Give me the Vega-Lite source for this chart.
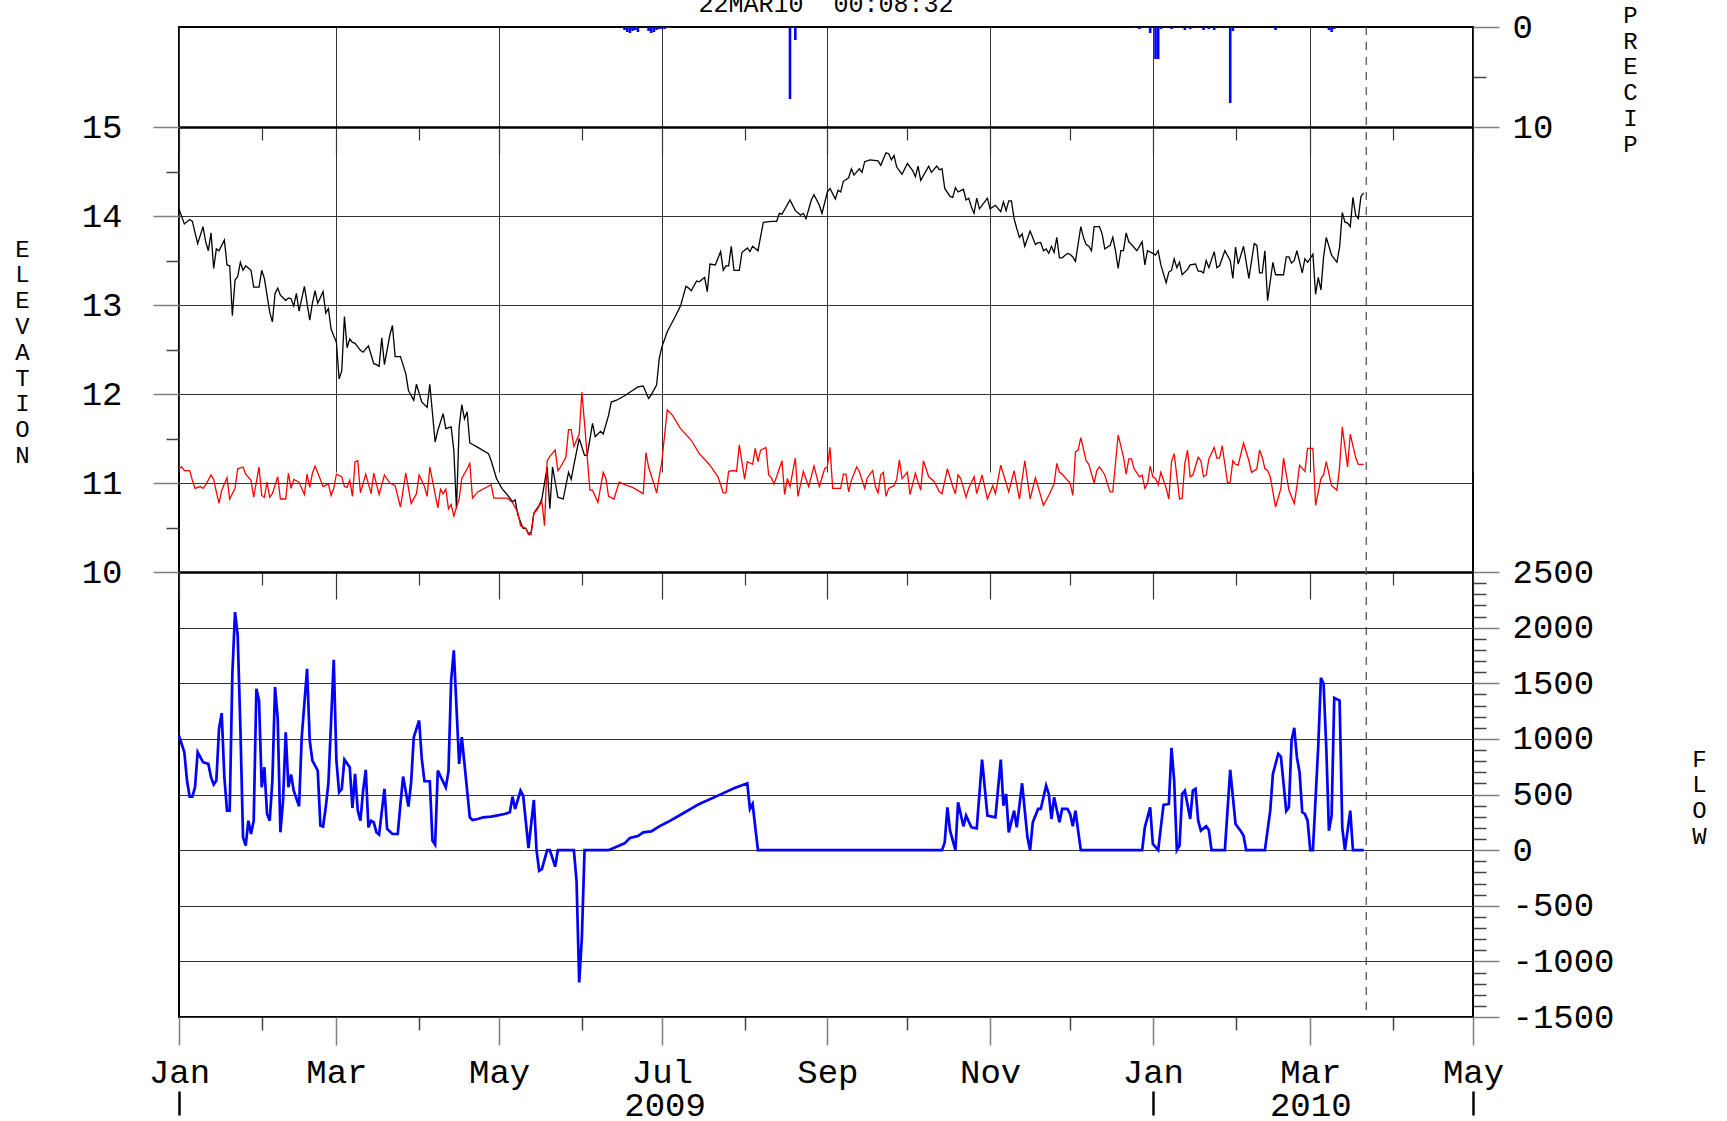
{
  "$schema": "https://vega.github.io/schema/vega-lite/v6.json",
  "width": 1294,
  "height": 990,
  "autosize": {"type": "none"},
  "padding": {"left": 179, "top": 27, "right": 254, "bottom": 104},
  "background": "white",
  "title": {"text": "22MAR10 \u00a000:08:32", "frame": "group", "anchor": "middle", "font": "Liberation Mono", "fontSize": 25, "fontWeight": "normal", "color": "black", "offset": -34, "baseline": "alphabetic"},
  "config": {
    "view": {"stroke": "black", "strokeWidth": 2},
    "axis": {"labelFont": "Liberation Mono", "labelFontSize": 34, "labelColor": "black", "titleFont": "Liberation Mono", "titleFontSize": 24, "titleFontWeight": "normal", "titleColor": "black", "labelOverlap": false, "labelFlush": false}
  },
  "datasets": {
    "elev": [
      {"t":"2009-01-01","s":"pool","v":14.08},{"t":"2009-01-03","s":"pool","v":13.91},{"t":"2009-01-05","s":"pool","v":13.96},{"t":"2009-01-06","s":"pool","v":13.94},{"t":"2009-01-08","s":"pool","v":13.69},{"t":"2009-01-10","s":"pool","v":13.88},{"t":"2009-01-11","s":"pool","v":13.71},{"t":"2009-01-12","s":"pool","v":13.61},{"t":"2009-01-13","s":"pool","v":13.81},{"t":"2009-01-14","s":"pool","v":13.41},{"t":"2009-01-15","s":"pool","v":13.63},{"t":"2009-01-16","s":"pool","v":13.61},{"t":"2009-01-18","s":"pool","v":13.73},{"t":"2009-01-19","s":"pool","v":13.45},{"t":"2009-01-20","s":"pool","v":13.44},{"t":"2009-01-21","s":"pool","v":12.88},{"t":"2009-01-22","s":"pool","v":13.28},{"t":"2009-01-23","s":"pool","v":13.32},{"t":"2009-01-24","s":"pool","v":13.48},{"t":"2009-01-25","s":"pool","v":13.39},{"t":"2009-01-26","s":"pool","v":13.44},{"t":"2009-01-28","s":"pool","v":13.39},{"t":"2009-01-29","s":"pool","v":13.2},{"t":"2009-01-31","s":"pool","v":13.2},
      {"t":"2009-02-01","s":"pool","v":13.39},{"t":"2009-02-02","s":"pool","v":13.3},{"t":"2009-02-04","s":"pool","v":12.92},{"t":"2009-02-05","s":"pool","v":12.81},{"t":"2009-02-06","s":"pool","v":13.13},{"t":"2009-02-07","s":"pool","v":13.19},{"t":"2009-02-08","s":"pool","v":13.11},{"t":"2009-02-10","s":"pool","v":13.05},{"t":"2009-02-11","s":"pool","v":13.08},{"t":"2009-02-12","s":"pool","v":13.07},{"t":"2009-02-13","s":"pool","v":12.99},{"t":"2009-02-14","s":"pool","v":13.13},{"t":"2009-02-15","s":"pool","v":12.93},{"t":"2009-02-17","s":"pool","v":13.21},{"t":"2009-02-19","s":"pool","v":12.83},{"t":"2009-02-20","s":"pool","v":13.02},{"t":"2009-02-21","s":"pool","v":13.16},{"t":"2009-02-22","s":"pool","v":13.02},{"t":"2009-02-24","s":"pool","v":13.15},{"t":"2009-02-25","s":"pool","v":12.91},{"t":"2009-02-26","s":"pool","v":12.96},{"t":"2009-02-27","s":"pool","v":12.73},
      {"t":"2009-03-01","s":"pool","v":12.58},{"t":"2009-03-02","s":"pool","v":12.17},{"t":"2009-03-03","s":"pool","v":12.26},{"t":"2009-03-04","s":"pool","v":12.87},{"t":"2009-03-05","s":"pool","v":12.52},{"t":"2009-03-06","s":"pool","v":12.62},{"t":"2009-03-07","s":"pool","v":12.58},{"t":"2009-03-08","s":"pool","v":12.57},{"t":"2009-03-10","s":"pool","v":12.49},{"t":"2009-03-11","s":"pool","v":12.47},{"t":"2009-03-13","s":"pool","v":12.54},{"t":"2009-03-15","s":"pool","v":12.34},{"t":"2009-03-16","s":"pool","v":12.33},{"t":"2009-03-17","s":"pool","v":12.31},{"t":"2009-03-18","s":"pool","v":12.63},{"t":"2009-03-19","s":"pool","v":12.33},{"t":"2009-03-21","s":"pool","v":12.66},{"t":"2009-03-22","s":"pool","v":12.77},{"t":"2009-03-23","s":"pool","v":12.42},{"t":"2009-03-25","s":"pool","v":12.42},{"t":"2009-03-27","s":"pool","v":12.23},{"t":"2009-03-28","s":"pool","v":12.04},{"t":"2009-03-30","s":"pool","v":11.93},{"t":"2009-03-31","s":"pool","v":12.11},
      {"t":"2009-04-02","s":"pool","v":11.91},{"t":"2009-04-04","s":"pool","v":11.85},{"t":"2009-04-05","s":"pool","v":12.11},{"t":"2009-04-07","s":"pool","v":11.46},{"t":"2009-04-08","s":"pool","v":11.59},{"t":"2009-04-10","s":"pool","v":11.78},{"t":"2009-04-11","s":"pool","v":11.61},{"t":"2009-04-13","s":"pool","v":11.63},{"t":"2009-04-14","s":"pool","v":11.37},{"t":"2009-04-15","s":"pool","v":10.71},{"t":"2009-04-16","s":"pool","v":11.63},{"t":"2009-04-17","s":"pool","v":11.88},{"t":"2009-04-18","s":"pool","v":11.72},{"t":"2009-04-19","s":"pool","v":11.8},{"t":"2009-04-20","s":"pool","v":11.45},{"t":"2009-04-23","s":"pool","v":11.4},{"t":"2009-04-27","s":"pool","v":11.33},{"t":"2009-04-28","s":"pool","v":11.25},{"t":"2009-04-30","s":"pool","v":11.05},
      {"t":"2009-05-02","s":"pool","v":10.94},{"t":"2009-05-04","s":"pool","v":10.87},{"t":"2009-05-06","s":"pool","v":10.79},{"t":"2009-05-07","s":"pool","v":10.81},{"t":"2009-05-08","s":"pool","v":10.64},{"t":"2009-05-10","s":"pool","v":10.49},{"t":"2009-05-11","s":"pool","v":10.49},{"t":"2009-05-12","s":"pool","v":10.43},{"t":"2009-05-13","s":"pool","v":10.45},{"t":"2009-05-14","s":"pool","v":10.66},{"t":"2009-05-16","s":"pool","v":10.75},{"t":"2009-05-17","s":"pool","v":10.82},{"t":"2009-05-19","s":"pool","v":11.18},{"t":"2009-05-20","s":"pool","v":10.71},{"t":"2009-05-21","s":"pool","v":11.18},{"t":"2009-05-23","s":"pool","v":10.84},{"t":"2009-05-25","s":"pool","v":10.82},{"t":"2009-05-27","s":"pool","v":11.12},{"t":"2009-05-28","s":"pool","v":11.04},{"t":"2009-05-29","s":"pool","v":11.2},{"t":"2009-05-31","s":"pool","v":11.5},
      {"t":"2009-06-02","s":"pool","v":11.31},{"t":"2009-06-03","s":"pool","v":11.31},{"t":"2009-06-05","s":"pool","v":11.67},{"t":"2009-06-06","s":"pool","v":11.52},{"t":"2009-06-08","s":"pool","v":11.58},{"t":"2009-06-09","s":"pool","v":11.55},{"t":"2009-06-11","s":"pool","v":11.76},{"t":"2009-06-12","s":"pool","v":11.91},{"t":"2009-06-14","s":"pool","v":11.93},{"t":"2009-06-17","s":"pool","v":11.98},{"t":"2009-06-19","s":"pool","v":12.02},{"t":"2009-06-22","s":"pool","v":12.08},{"t":"2009-06-24","s":"pool","v":12.09},{"t":"2009-06-26","s":"pool","v":11.95},{"t":"2009-06-27","s":"pool","v":11.99},{"t":"2009-06-29","s":"pool","v":12.1},{"t":"2009-06-30","s":"pool","v":12.4},
      {"t":"2009-07-01","s":"pool","v":12.53},{"t":"2009-07-03","s":"pool","v":12.7},{"t":"2009-07-06","s":"pool","v":12.87},{"t":"2009-07-08","s":"pool","v":12.99},{"t":"2009-07-10","s":"pool","v":13.21},{"t":"2009-07-11","s":"pool","v":13.19},{"t":"2009-07-12","s":"pool","v":13.16},{"t":"2009-07-14","s":"pool","v":13.27},{"t":"2009-07-15","s":"pool","v":13.26},{"t":"2009-07-17","s":"pool","v":13.31},{"t":"2009-07-18","s":"pool","v":13.15},{"t":"2009-07-19","s":"pool","v":13.46},{"t":"2009-07-21","s":"pool","v":13.45},{"t":"2009-07-23","s":"pool","v":13.6},{"t":"2009-07-24","s":"pool","v":13.39},{"t":"2009-07-25","s":"pool","v":13.44},{"t":"2009-07-26","s":"pool","v":13.44},{"t":"2009-07-27","s":"pool","v":13.66},{"t":"2009-07-28","s":"pool","v":13.39},{"t":"2009-07-30","s":"pool","v":13.39},{"t":"2009-07-31","s":"pool","v":13.59},
      {"t":"2009-08-02","s":"pool","v":13.64},{"t":"2009-08-03","s":"pool","v":13.6},{"t":"2009-08-04","s":"pool","v":13.66},{"t":"2009-08-06","s":"pool","v":13.61},{"t":"2009-08-08","s":"pool","v":13.93},{"t":"2009-08-11","s":"pool","v":13.94},{"t":"2009-08-13","s":"pool","v":13.94},{"t":"2009-08-14","s":"pool","v":14.03},{"t":"2009-08-15","s":"pool","v":14.02},{"t":"2009-08-18","s":"pool","v":14.18},{"t":"2009-08-20","s":"pool","v":14.06},{"t":"2009-08-22","s":"pool","v":14.01},{"t":"2009-08-23","s":"pool","v":14.03},{"t":"2009-08-24","s":"pool","v":13.97},{"t":"2009-08-26","s":"pool","v":14.18},{"t":"2009-08-27","s":"pool","v":14.24},{"t":"2009-08-29","s":"pool","v":14.12},{"t":"2009-08-30","s":"pool","v":14.03},
      {"t":"2009-09-01","s":"pool","v":14.27},{"t":"2009-09-02","s":"pool","v":14.31},{"t":"2009-09-04","s":"pool","v":14.19},{"t":"2009-09-05","s":"pool","v":14.29},{"t":"2009-09-06","s":"pool","v":14.27},{"t":"2009-09-07","s":"pool","v":14.39},{"t":"2009-09-09","s":"pool","v":14.43},{"t":"2009-09-10","s":"pool","v":14.53},{"t":"2009-09-11","s":"pool","v":14.46},{"t":"2009-09-13","s":"pool","v":14.53},{"t":"2009-09-14","s":"pool","v":14.49},{"t":"2009-09-15","s":"pool","v":14.61},{"t":"2009-09-17","s":"pool","v":14.63},{"t":"2009-09-20","s":"pool","v":14.62},{"t":"2009-09-21","s":"pool","v":14.57},{"t":"2009-09-23","s":"pool","v":14.71},{"t":"2009-09-24","s":"pool","v":14.7},{"t":"2009-09-25","s":"pool","v":14.63},{"t":"2009-09-26","s":"pool","v":14.68},{"t":"2009-09-27","s":"pool","v":14.55},{"t":"2009-09-29","s":"pool","v":14.47},
      {"t":"2009-10-01","s":"pool","v":14.59},{"t":"2009-10-03","s":"pool","v":14.51},{"t":"2009-10-04","s":"pool","v":14.44},{"t":"2009-10-05","s":"pool","v":14.56},{"t":"2009-10-06","s":"pool","v":14.4},{"t":"2009-10-09","s":"pool","v":14.56},{"t":"2009-10-10","s":"pool","v":14.49},{"t":"2009-10-12","s":"pool","v":14.56},{"t":"2009-10-13","s":"pool","v":14.52},{"t":"2009-10-14","s":"pool","v":14.53},{"t":"2009-10-15","s":"pool","v":14.31},{"t":"2009-10-17","s":"pool","v":14.22},{"t":"2009-10-18","s":"pool","v":14.21},{"t":"2009-10-19","s":"pool","v":14.32},{"t":"2009-10-20","s":"pool","v":14.27},{"t":"2009-10-22","s":"pool","v":14.3},{"t":"2009-10-23","s":"pool","v":14.18},{"t":"2009-10-24","s":"pool","v":14.2},{"t":"2009-10-25","s":"pool","v":14.1},{"t":"2009-10-26","s":"pool","v":14.03},{"t":"2009-10-27","s":"pool","v":14.2},{"t":"2009-10-28","s":"pool","v":14.08},{"t":"2009-10-31","s":"pool","v":14.2},
      {"t":"2009-11-01","s":"pool","v":14.08},{"t":"2009-11-03","s":"pool","v":14.12},{"t":"2009-11-05","s":"pool","v":14.05},{"t":"2009-11-06","s":"pool","v":14.16},{"t":"2009-11-07","s":"pool","v":14.06},{"t":"2009-11-08","s":"pool","v":14.17},{"t":"2009-11-09","s":"pool","v":14.17},{"t":"2009-11-10","s":"pool","v":13.97},{"t":"2009-11-11","s":"pool","v":13.86},{"t":"2009-11-12","s":"pool","v":13.76},{"t":"2009-11-13","s":"pool","v":13.8},{"t":"2009-11-14","s":"pool","v":13.66},{"t":"2009-11-16","s":"pool","v":13.83},{"t":"2009-11-18","s":"pool","v":13.68},{"t":"2009-11-19","s":"pool","v":13.7},{"t":"2009-11-20","s":"pool","v":13.7},{"t":"2009-11-21","s":"pool","v":13.61},{"t":"2009-11-22","s":"pool","v":13.63},{"t":"2009-11-23","s":"pool","v":13.58},{"t":"2009-11-24","s":"pool","v":13.66},{"t":"2009-11-25","s":"pool","v":13.59},{"t":"2009-11-26","s":"pool","v":13.76},{"t":"2009-11-27","s":"pool","v":13.53},{"t":"2009-11-28","s":"pool","v":13.53},{"t":"2009-11-30","s":"pool","v":13.58},
      {"t":"2009-12-01","s":"pool","v":13.57},{"t":"2009-12-02","s":"pool","v":13.54},{"t":"2009-12-03","s":"pool","v":13.49},{"t":"2009-12-05","s":"pool","v":13.88},{"t":"2009-12-06","s":"pool","v":13.76},{"t":"2009-12-07","s":"pool","v":13.68},{"t":"2009-12-08","s":"pool","v":13.66},{"t":"2009-12-09","s":"pool","v":13.61},{"t":"2009-12-10","s":"pool","v":13.88},{"t":"2009-12-12","s":"pool","v":13.88},{"t":"2009-12-13","s":"pool","v":13.8},{"t":"2009-12-14","s":"pool","v":13.63},{"t":"2009-12-16","s":"pool","v":13.67},{"t":"2009-12-17","s":"pool","v":13.76},{"t":"2009-12-18","s":"pool","v":13.61},{"t":"2009-12-19","s":"pool","v":13.41},{"t":"2009-12-20","s":"pool","v":13.61},{"t":"2009-12-21","s":"pool","v":13.61},{"t":"2009-12-22","s":"pool","v":13.81},{"t":"2009-12-23","s":"pool","v":13.71},{"t":"2009-12-24","s":"pool","v":13.68},{"t":"2009-12-26","s":"pool","v":13.61},{"t":"2009-12-28","s":"pool","v":13.71},{"t":"2009-12-29","s":"pool","v":13.45},{"t":"2009-12-30","s":"pool","v":13.61},
      {"t":"2010-01-01","s":"pool","v":13.58},{"t":"2010-01-02","s":"pool","v":13.56},{"t":"2010-01-03","s":"pool","v":13.61},{"t":"2010-01-04","s":"pool","v":13.45},{"t":"2010-01-06","s":"pool","v":13.25},{"t":"2010-01-07","s":"pool","v":13.37},{"t":"2010-01-08","s":"pool","v":13.39},{"t":"2010-01-09","s":"pool","v":13.52},{"t":"2010-01-10","s":"pool","v":13.42},{"t":"2010-01-11","s":"pool","v":13.48},{"t":"2010-01-12","s":"pool","v":13.34},{"t":"2010-01-14","s":"pool","v":13.4},{"t":"2010-01-15","s":"pool","v":13.45},{"t":"2010-01-17","s":"pool","v":13.46},{"t":"2010-01-18","s":"pool","v":13.38},{"t":"2010-01-19","s":"pool","v":13.38},{"t":"2010-01-20","s":"pool","v":13.36},{"t":"2010-01-21","s":"pool","v":13.5},{"t":"2010-01-22","s":"pool","v":13.42},{"t":"2010-01-24","s":"pool","v":13.6},{"t":"2010-01-25","s":"pool","v":13.42},{"t":"2010-01-26","s":"pool","v":13.44},{"t":"2010-01-28","s":"pool","v":13.61},{"t":"2010-01-30","s":"pool","v":13.5},{"t":"2010-01-31","s":"pool","v":13.3},
      {"t":"2010-02-01","s":"pool","v":13.65},{"t":"2010-02-02","s":"pool","v":13.46},{"t":"2010-02-04","s":"pool","v":13.66},{"t":"2010-02-06","s":"pool","v":13.3},{"t":"2010-02-08","s":"pool","v":13.69},{"t":"2010-02-09","s":"pool","v":13.67},{"t":"2010-02-10","s":"pool","v":13.36},{"t":"2010-02-11","s":"pool","v":13.36},{"t":"2010-02-12","s":"pool","v":13.61},{"t":"2010-02-13","s":"pool","v":13.05},{"t":"2010-02-15","s":"pool","v":13.48},{"t":"2010-02-16","s":"pool","v":13.34},{"t":"2010-02-19","s":"pool","v":13.34},{"t":"2010-02-20","s":"pool","v":13.54},{"t":"2010-02-21","s":"pool","v":13.54},{"t":"2010-02-22","s":"pool","v":13.47},{"t":"2010-02-23","s":"pool","v":13.5},{"t":"2010-02-24","s":"pool","v":13.61},{"t":"2010-02-26","s":"pool","v":13.36},{"t":"2010-02-27","s":"pool","v":13.52},{"t":"2010-02-28","s":"pool","v":13.48},
      {"t":"2010-03-02","s":"pool","v":13.57},{"t":"2010-03-03","s":"pool","v":13.12},{"t":"2010-03-04","s":"pool","v":13.31},{"t":"2010-03-05","s":"pool","v":13.17},{"t":"2010-03-06","s":"pool","v":13.54},{"t":"2010-03-07","s":"pool","v":13.76},{"t":"2010-03-09","s":"pool","v":13.56},{"t":"2010-03-11","s":"pool","v":13.48},{"t":"2010-03-12","s":"pool","v":13.65},{"t":"2010-03-13","s":"pool","v":14.04},{"t":"2010-03-14","s":"pool","v":13.93},{"t":"2010-03-15","s":"pool","v":13.92},{"t":"2010-03-16","s":"pool","v":13.88},{"t":"2010-03-17","s":"pool","v":14.21},{"t":"2010-03-18","s":"pool","v":14.01},{"t":"2010-03-19","s":"pool","v":13.97},{"t":"2010-03-20","s":"pool","v":14.22},{"t":"2010-03-21","s":"pool","v":14.26},
      {"t":"2009-01-01","s":"tail","v":11.16},{"t":"2009-01-02","s":"tail","v":11.18},{"t":"2009-01-03","s":"tail","v":11.14},{"t":"2009-01-05","s":"tail","v":11.14},{"t":"2009-01-06","s":"tail","v":11.03},{"t":"2009-01-07","s":"tail","v":10.94},{"t":"2009-01-09","s":"tail","v":10.96},{"t":"2009-01-10","s":"tail","v":10.94},{"t":"2009-01-11","s":"tail","v":10.98},{"t":"2009-01-13","s":"tail","v":11.09},{"t":"2009-01-14","s":"tail","v":11.04},{"t":"2009-01-15","s":"tail","v":10.9},{"t":"2009-01-16","s":"tail","v":10.77},{"t":"2009-01-17","s":"tail","v":10.92},{"t":"2009-01-19","s":"tail","v":11.06},{"t":"2009-01-20","s":"tail","v":10.82},{"t":"2009-01-22","s":"tail","v":10.94},{"t":"2009-01-23","s":"tail","v":11.16},{"t":"2009-01-25","s":"tail","v":11.18},{"t":"2009-01-26","s":"tail","v":11.1},{"t":"2009-01-28","s":"tail","v":11.03},{"t":"2009-01-29","s":"tail","v":10.84},{"t":"2009-01-31","s":"tail","v":11.18},
      {"t":"2009-02-01","s":"tail","v":10.86},{"t":"2009-02-02","s":"tail","v":10.84},{"t":"2009-02-03","s":"tail","v":11.01},{"t":"2009-02-04","s":"tail","v":10.84},{"t":"2009-02-05","s":"tail","v":10.88},{"t":"2009-02-07","s":"tail","v":11.07},{"t":"2009-02-08","s":"tail","v":10.82},{"t":"2009-02-10","s":"tail","v":10.82},{"t":"2009-02-11","s":"tail","v":11.11},{"t":"2009-02-12","s":"tail","v":10.94},{"t":"2009-02-13","s":"tail","v":11.04},{"t":"2009-02-15","s":"tail","v":11.01},{"t":"2009-02-17","s":"tail","v":10.87},{"t":"2009-02-18","s":"tail","v":11.1},{"t":"2009-02-19","s":"tail","v":10.95},{"t":"2009-02-20","s":"tail","v":11.11},{"t":"2009-02-21","s":"tail","v":11.19},{"t":"2009-02-23","s":"tail","v":11.04},{"t":"2009-02-24","s":"tail","v":10.96},{"t":"2009-02-26","s":"tail","v":10.99},{"t":"2009-02-27","s":"tail","v":10.86},{"t":"2009-02-28","s":"tail","v":10.94},
      {"t":"2009-03-01","s":"tail","v":11.1},{"t":"2009-03-03","s":"tail","v":11.07},{"t":"2009-03-04","s":"tail","v":10.96},{"t":"2009-03-05","s":"tail","v":10.95},{"t":"2009-03-06","s":"tail","v":11.03},{"t":"2009-03-07","s":"tail","v":10.85},{"t":"2009-03-08","s":"tail","v":11.24},{"t":"2009-03-09","s":"tail","v":11.25},{"t":"2009-03-10","s":"tail","v":10.89},{"t":"2009-03-12","s":"tail","v":11.1},{"t":"2009-03-14","s":"tail","v":10.88},{"t":"2009-03-15","s":"tail","v":11.11},{"t":"2009-03-17","s":"tail","v":10.87},{"t":"2009-03-19","s":"tail","v":11.09},{"t":"2009-03-21","s":"tail","v":11.0},{"t":"2009-03-23","s":"tail","v":10.97},{"t":"2009-03-25","s":"tail","v":10.73},{"t":"2009-03-27","s":"tail","v":11.11},{"t":"2009-03-29","s":"tail","v":10.77},{"t":"2009-03-31","s":"tail","v":10.88},
      {"t":"2009-04-01","s":"tail","v":11.09},{"t":"2009-04-03","s":"tail","v":10.96},{"t":"2009-04-04","s":"tail","v":10.85},{"t":"2009-04-05","s":"tail","v":11.18},{"t":"2009-04-08","s":"tail","v":10.72},{"t":"2009-04-09","s":"tail","v":10.93},{"t":"2009-04-10","s":"tail","v":10.88},{"t":"2009-04-11","s":"tail","v":10.93},{"t":"2009-04-12","s":"tail","v":10.71},{"t":"2009-04-13","s":"tail","v":10.76},{"t":"2009-04-14","s":"tail","v":10.63},{"t":"2009-04-16","s":"tail","v":10.82},{"t":"2009-04-17","s":"tail","v":11.05},{"t":"2009-04-19","s":"tail","v":11.16},{"t":"2009-04-20","s":"tail","v":11.22},{"t":"2009-04-21","s":"tail","v":10.83},{"t":"2009-04-23","s":"tail","v":10.9},{"t":"2009-04-28","s":"tail","v":10.98},{"t":"2009-04-29","s":"tail","v":10.83},
      {"t":"2009-05-04","s":"tail","v":10.83},{"t":"2009-05-06","s":"tail","v":10.78},{"t":"2009-05-08","s":"tail","v":10.67},{"t":"2009-05-09","s":"tail","v":10.52},{"t":"2009-05-11","s":"tail","v":10.49},{"t":"2009-05-12","s":"tail","v":10.42},{"t":"2009-05-13","s":"tail","v":10.42},{"t":"2009-05-14","s":"tail","v":10.66},{"t":"2009-05-15","s":"tail","v":10.69},{"t":"2009-05-17","s":"tail","v":10.79},{"t":"2009-05-18","s":"tail","v":10.52},{"t":"2009-05-19","s":"tail","v":11.25},{"t":"2009-05-20","s":"tail","v":11.3},{"t":"2009-05-22","s":"tail","v":11.37},{"t":"2009-05-23","s":"tail","v":11.14},{"t":"2009-05-24","s":"tail","v":11.18},{"t":"2009-05-26","s":"tail","v":11.29},{"t":"2009-05-27","s":"tail","v":11.6},{"t":"2009-05-28","s":"tail","v":11.6},{"t":"2009-05-29","s":"tail","v":11.41},{"t":"2009-05-31","s":"tail","v":11.55},
      {"t":"2009-06-01","s":"tail","v":12.02},{"t":"2009-06-02","s":"tail","v":11.67},{"t":"2009-06-04","s":"tail","v":10.92},{"t":"2009-06-05","s":"tail","v":10.92},{"t":"2009-06-07","s":"tail","v":10.78},{"t":"2009-06-09","s":"tail","v":11.12},{"t":"2009-06-10","s":"tail","v":11.05},{"t":"2009-06-11","s":"tail","v":10.85},{"t":"2009-06-13","s":"tail","v":10.82},{"t":"2009-06-15","s":"tail","v":11.01},{"t":"2009-06-18","s":"tail","v":10.97},{"t":"2009-06-20","s":"tail","v":10.95},{"t":"2009-06-24","s":"tail","v":10.88},{"t":"2009-06-25","s":"tail","v":11.34},{"t":"2009-06-26","s":"tail","v":11.18},{"t":"2009-06-28","s":"tail","v":10.99},{"t":"2009-06-29","s":"tail","v":10.89},
      {"t":"2009-07-01","s":"tail","v":11.25},{"t":"2009-07-03","s":"tail","v":11.82},{"t":"2009-07-05","s":"tail","v":11.76},{"t":"2009-07-08","s":"tail","v":11.61},{"t":"2009-07-12","s":"tail","v":11.48},{"t":"2009-07-15","s":"tail","v":11.33},{"t":"2009-07-19","s":"tail","v":11.2},{"t":"2009-07-22","s":"tail","v":11.07},{"t":"2009-07-24","s":"tail","v":10.89},{"t":"2009-07-25","s":"tail","v":10.89},{"t":"2009-07-26","s":"tail","v":11.13},{"t":"2009-07-28","s":"tail","v":11.14},{"t":"2009-07-29","s":"tail","v":11.13},{"t":"2009-07-30","s":"tail","v":11.43},
      {"t":"2009-08-01","s":"tail","v":11.04},{"t":"2009-08-02","s":"tail","v":11.24},{"t":"2009-08-04","s":"tail","v":11.21},{"t":"2009-08-05","s":"tail","v":11.39},{"t":"2009-08-06","s":"tail","v":11.24},{"t":"2009-08-07","s":"tail","v":11.37},{"t":"2009-08-09","s":"tail","v":11.4},{"t":"2009-08-10","s":"tail","v":11.09},{"t":"2009-08-11","s":"tail","v":11.06},{"t":"2009-08-12","s":"tail","v":10.99},{"t":"2009-08-13","s":"tail","v":11.07},{"t":"2009-08-15","s":"tail","v":11.25},{"t":"2009-08-16","s":"tail","v":10.87},{"t":"2009-08-17","s":"tail","v":11.05},{"t":"2009-08-18","s":"tail","v":10.96},{"t":"2009-08-20","s":"tail","v":11.28},{"t":"2009-08-21","s":"tail","v":10.85},{"t":"2009-08-23","s":"tail","v":11.13},{"t":"2009-08-25","s":"tail","v":10.96},{"t":"2009-08-27","s":"tail","v":11.19},{"t":"2009-08-29","s":"tail","v":10.96},{"t":"2009-08-31","s":"tail","v":11.16},
      {"t":"2009-09-01","s":"tail","v":11.18},{"t":"2009-09-02","s":"tail","v":11.4},{"t":"2009-09-03","s":"tail","v":10.94},{"t":"2009-09-06","s":"tail","v":10.94},{"t":"2009-09-07","s":"tail","v":11.1},{"t":"2009-09-08","s":"tail","v":11.1},{"t":"2009-09-09","s":"tail","v":10.9},{"t":"2009-09-10","s":"tail","v":11.03},{"t":"2009-09-12","s":"tail","v":11.18},{"t":"2009-09-13","s":"tail","v":11.13},{"t":"2009-09-15","s":"tail","v":10.94},{"t":"2009-09-16","s":"tail","v":11.06},{"t":"2009-09-18","s":"tail","v":11.14},{"t":"2009-09-19","s":"tail","v":10.96},{"t":"2009-09-20","s":"tail","v":10.89},{"t":"2009-09-21","s":"tail","v":11.09},{"t":"2009-09-22","s":"tail","v":11.12},{"t":"2009-09-23","s":"tail","v":10.85},{"t":"2009-09-24","s":"tail","v":10.94},{"t":"2009-09-26","s":"tail","v":10.97},{"t":"2009-09-27","s":"tail","v":11.04},{"t":"2009-09-28","s":"tail","v":11.26},{"t":"2009-09-29","s":"tail","v":11.05},
      {"t":"2009-10-01","s":"tail","v":11.12},{"t":"2009-10-02","s":"tail","v":10.87},{"t":"2009-10-04","s":"tail","v":11.11},{"t":"2009-10-05","s":"tail","v":11.01},{"t":"2009-10-06","s":"tail","v":10.92},{"t":"2009-10-07","s":"tail","v":11.25},{"t":"2009-10-09","s":"tail","v":11.07},{"t":"2009-10-11","s":"tail","v":11.02},{"t":"2009-10-13","s":"tail","v":10.9},{"t":"2009-10-14","s":"tail","v":10.88},{"t":"2009-10-16","s":"tail","v":11.16},{"t":"2009-10-18","s":"tail","v":10.96},{"t":"2009-10-19","s":"tail","v":10.88},{"t":"2009-10-20","s":"tail","v":11.09},{"t":"2009-10-21","s":"tail","v":11.05},{"t":"2009-10-23","s":"tail","v":10.84},{"t":"2009-10-24","s":"tail","v":10.94},{"t":"2009-10-26","s":"tail","v":11.07},{"t":"2009-10-27","s":"tail","v":10.88},{"t":"2009-10-29","s":"tail","v":11.09},{"t":"2009-10-31","s":"tail","v":10.82},
      {"t":"2009-11-02","s":"tail","v":10.97},{"t":"2009-11-03","s":"tail","v":10.88},{"t":"2009-11-05","s":"tail","v":11.2},{"t":"2009-11-07","s":"tail","v":11.0},{"t":"2009-11-08","s":"tail","v":10.9},{"t":"2009-11-10","s":"tail","v":11.14},{"t":"2009-11-12","s":"tail","v":10.82},{"t":"2009-11-14","s":"tail","v":11.25},{"t":"2009-11-16","s":"tail","v":10.82},{"t":"2009-11-18","s":"tail","v":11.06},{"t":"2009-11-21","s":"tail","v":10.75},{"t":"2009-11-23","s":"tail","v":10.86},{"t":"2009-11-25","s":"tail","v":10.99},{"t":"2009-11-26","s":"tail","v":11.22},{"t":"2009-11-27","s":"tail","v":11.12},{"t":"2009-11-28","s":"tail","v":11.1},{"t":"2009-11-30","s":"tail","v":11.03},
      {"t":"2009-12-01","s":"tail","v":11.0},{"t":"2009-12-02","s":"tail","v":10.86},{"t":"2009-12-03","s":"tail","v":11.35},{"t":"2009-12-04","s":"tail","v":11.37},{"t":"2009-12-05","s":"tail","v":11.51},{"t":"2009-12-07","s":"tail","v":11.25},{"t":"2009-12-08","s":"tail","v":11.21},{"t":"2009-12-10","s":"tail","v":11.0},{"t":"2009-12-11","s":"tail","v":11.14},{"t":"2009-12-12","s":"tail","v":11.18},{"t":"2009-12-14","s":"tail","v":11.09},{"t":"2009-12-15","s":"tail","v":10.99},{"t":"2009-12-16","s":"tail","v":10.9},{"t":"2009-12-17","s":"tail","v":10.9},{"t":"2009-12-19","s":"tail","v":11.54},{"t":"2009-12-21","s":"tail","v":11.29},{"t":"2009-12-22","s":"tail","v":11.1},{"t":"2009-12-23","s":"tail","v":11.27},{"t":"2009-12-24","s":"tail","v":11.27},{"t":"2009-12-25","s":"tail","v":11.16},{"t":"2009-12-27","s":"tail","v":11.07},{"t":"2009-12-28","s":"tail","v":11.09},{"t":"2009-12-29","s":"tail","v":10.94},{"t":"2009-12-30","s":"tail","v":10.99},{"t":"2009-12-31","s":"tail","v":11.19},
      {"t":"2010-01-01","s":"tail","v":11.07},{"t":"2010-01-02","s":"tail","v":11.05},{"t":"2010-01-03","s":"tail","v":10.98},{"t":"2010-01-04","s":"tail","v":11.12},{"t":"2010-01-06","s":"tail","v":10.94},{"t":"2010-01-07","s":"tail","v":10.82},{"t":"2010-01-08","s":"tail","v":11.24},{"t":"2010-01-09","s":"tail","v":11.33},{"t":"2010-01-11","s":"tail","v":10.82},{"t":"2010-01-12","s":"tail","v":10.83},{"t":"2010-01-13","s":"tail","v":11.22},{"t":"2010-01-14","s":"tail","v":11.37},{"t":"2010-01-15","s":"tail","v":11.07},{"t":"2010-01-16","s":"tail","v":11.09},{"t":"2010-01-18","s":"tail","v":11.29},{"t":"2010-01-19","s":"tail","v":11.25},{"t":"2010-01-20","s":"tail","v":11.07},{"t":"2010-01-21","s":"tail","v":11.09},{"t":"2010-01-22","s":"tail","v":11.27},{"t":"2010-01-24","s":"tail","v":11.4},{"t":"2010-01-25","s":"tail","v":11.28},{"t":"2010-01-26","s":"tail","v":11.28},{"t":"2010-01-27","s":"tail","v":11.42},{"t":"2010-01-29","s":"tail","v":11.0},{"t":"2010-01-30","s":"tail","v":11.01},{"t":"2010-01-31","s":"tail","v":11.25},
      {"t":"2010-02-01","s":"tail","v":11.21},{"t":"2010-02-02","s":"tail","v":11.2},{"t":"2010-02-04","s":"tail","v":11.45},{"t":"2010-02-06","s":"tail","v":11.25},{"t":"2010-02-07","s":"tail","v":11.12},{"t":"2010-02-09","s":"tail","v":11.16},{"t":"2010-02-10","s":"tail","v":11.37},{"t":"2010-02-11","s":"tail","v":11.29},{"t":"2010-02-12","s":"tail","v":11.16},{"t":"2010-02-13","s":"tail","v":11.14},{"t":"2010-02-14","s":"tail","v":11.07},{"t":"2010-02-15","s":"tail","v":10.9},{"t":"2010-02-16","s":"tail","v":10.73},{"t":"2010-02-18","s":"tail","v":10.94},{"t":"2010-02-19","s":"tail","v":11.28},{"t":"2010-02-21","s":"tail","v":10.92},{"t":"2010-02-23","s":"tail","v":10.77},{"t":"2010-02-24","s":"tail","v":10.96},{"t":"2010-02-25","s":"tail","v":11.2},{"t":"2010-02-27","s":"tail","v":11.13},{"t":"2010-02-28","s":"tail","v":11.39},
      {"t":"2010-03-02","s":"tail","v":11.39},{"t":"2010-03-03","s":"tail","v":10.75},{"t":"2010-03-05","s":"tail","v":11.05},{"t":"2010-03-06","s":"tail","v":11.09},{"t":"2010-03-07","s":"tail","v":11.24},{"t":"2010-03-09","s":"tail","v":10.97},{"t":"2010-03-11","s":"tail","v":10.92},{"t":"2010-03-12","s":"tail","v":11.18},{"t":"2010-03-13","s":"tail","v":11.63},{"t":"2010-03-15","s":"tail","v":11.18},{"t":"2010-03-16","s":"tail","v":11.55},{"t":"2010-03-18","s":"tail","v":11.29},{"t":"2010-03-19","s":"tail","v":11.21},{"t":"2010-03-21","s":"tail","v":11.21}
    ],
    "flow": [
      {"t":"2009-01-01","q":1030},{"t":"2009-01-03","q":880},{"t":"2009-01-04","q":625},{"t":"2009-01-05","q":481},{"t":"2009-01-06","q":480},{"t":"2009-01-07","q":565},{"t":"2009-01-08","q":880},{"t":"2009-01-09","q":835},{"t":"2009-01-10","q":790},{"t":"2009-01-12","q":775},{"t":"2009-01-13","q":655},{"t":"2009-01-14","q":589},{"t":"2009-01-15","q":625},{"t":"2009-01-16","q":1090},{"t":"2009-01-17","q":1231},{"t":"2009-01-18","q":655},{"t":"2009-01-19","q":355},{"t":"2009-01-20","q":355},{"t":"2009-01-21","q":1585},{"t":"2009-01-22","q":2140},{"t":"2009-01-23","q":1930},{"t":"2009-01-24","q":1105},{"t":"2009-01-25","q":115},{"t":"2009-01-26","q":40},{"t":"2009-01-27","q":265},{"t":"2009-01-28","q":145},{"t":"2009-01-29","q":265},{"t":"2009-01-30","q":1450},{"t":"2009-01-31","q":1345},
      {"t":"2009-02-01","q":565},{"t":"2009-02-02","q":745},{"t":"2009-02-03","q":325},{"t":"2009-02-04","q":265},{"t":"2009-02-05","q":625},{"t":"2009-02-06","q":1465},{"t":"2009-02-07","q":1180},{"t":"2009-02-08","q":160},{"t":"2009-02-09","q":445},{"t":"2009-02-10","q":1060},{"t":"2009-02-11","q":565},{"t":"2009-02-12","q":679},{"t":"2009-02-13","q":535},{"t":"2009-02-15","q":394},{"t":"2009-02-16","q":1015},{"t":"2009-02-18","q":1630},{"t":"2009-02-19","q":985},{"t":"2009-02-20","q":805},{"t":"2009-02-22","q":715},{"t":"2009-02-23","q":220},{"t":"2009-02-24","q":211},{"t":"2009-02-25","q":385},{"t":"2009-02-26","q":601},{"t":"2009-02-28","q":1711},
      {"t":"2009-03-01","q":805},{"t":"2009-03-02","q":520},{"t":"2009-03-03","q":550},{"t":"2009-03-04","q":814},{"t":"2009-03-06","q":745},{"t":"2009-03-07","q":379},{"t":"2009-03-08","q":685},{"t":"2009-03-09","q":355},{"t":"2009-03-10","q":265},{"t":"2009-03-11","q":535},{"t":"2009-03-12","q":721},{"t":"2009-03-13","q":205},{"t":"2009-03-14","q":265},{"t":"2009-03-15","q":250},{"t":"2009-03-16","q":160},{"t":"2009-03-17","q":139},{"t":"2009-03-19","q":550},{"t":"2009-03-20","q":190},{"t":"2009-03-22","q":145},{"t":"2009-03-24","q":145},{"t":"2009-03-25","q":415},{"t":"2009-03-26","q":661},{"t":"2009-03-28","q":391},{"t":"2009-03-29","q":610},{"t":"2009-03-30","q":1015},
      {"t":"2009-04-01","q":1165},{"t":"2009-04-02","q":820},{"t":"2009-04-03","q":619},{"t":"2009-04-05","q":619},{"t":"2009-04-06","q":85},{"t":"2009-04-07","q":49},{"t":"2009-04-08","q":715},{"t":"2009-04-11","q":565},{"t":"2009-04-12","q":709},{"t":"2009-04-13","q":1525},{"t":"2009-04-14","q":1795},{"t":"2009-04-16","q":775},{"t":"2009-04-17","q":1015},{"t":"2009-04-20","q":295},{"t":"2009-04-21","q":271},{"t":"2009-04-23","q":280},{"t":"2009-04-25","q":295},{"t":"2009-04-28","q":301},{"t":"2009-04-30","q":310},
      {"t":"2009-05-03","q":325},{"t":"2009-05-05","q":340},{"t":"2009-05-06","q":481},{"t":"2009-05-07","q":370},{"t":"2009-05-09","q":535},{"t":"2009-05-10","q":490},{"t":"2009-05-12","q":19},{"t":"2009-05-14","q":451},{"t":"2009-05-15","q":0},{"t":"2009-05-16","q":-185},{"t":"2009-05-17","q":-170},{"t":"2009-05-19","q":0},{"t":"2009-05-20","q":0},{"t":"2009-05-22","q":-149},{"t":"2009-05-23","q":0},{"t":"2009-05-29","q":0},{"t":"2009-05-30","q":-275},{"t":"2009-05-31","q":-1190},
      {"t":"2009-06-01","q":-785},{"t":"2009-06-02","q":0},{"t":"2009-06-11","q":0},{"t":"2009-06-14","q":31},{"t":"2009-06-17","q":61},{"t":"2009-06-19","q":109},{"t":"2009-06-22","q":127},{"t":"2009-06-24","q":160},{"t":"2009-06-27","q":169},{"t":"2009-06-30","q":214},{"t":"2009-07-03","q":250},{"t":"2009-07-09","q":331},{"t":"2009-07-15","q":415},{"t":"2009-07-22","q":490},{"t":"2009-07-28","q":556},{"t":"2009-08-02","q":601},{"t":"2009-08-03","q":370},{"t":"2009-08-04","q":415},{"t":"2009-08-05","q":205},{"t":"2009-08-06","q":0},
      {"t":"2009-10-14","q":0},{"t":"2009-10-15","q":70},{"t":"2009-10-16","q":385},{"t":"2009-10-17","q":175},{"t":"2009-10-19","q":0},{"t":"2009-10-20","q":430},{"t":"2009-10-22","q":214},{"t":"2009-10-23","q":310},{"t":"2009-10-25","q":205},{"t":"2009-10-27","q":196},{"t":"2009-10-29","q":814},{"t":"2009-10-31","q":310},{"t":"2009-11-03","q":295},{"t":"2009-11-05","q":814},{"t":"2009-11-06","q":400},{"t":"2009-11-07","q":505},{"t":"2009-11-08","q":160},{"t":"2009-11-10","q":355},{"t":"2009-11-11","q":205},{"t":"2009-11-13","q":601},{"t":"2009-11-15","q":115},{"t":"2009-11-16","q":0},{"t":"2009-11-17","q":250},{"t":"2009-11-19","q":370},{"t":"2009-11-20","q":370},{"t":"2009-11-22","q":580},{"t":"2009-11-23","q":505},{"t":"2009-11-24","q":280},{"t":"2009-11-25","q":475},{"t":"2009-11-27","q":250},{"t":"2009-11-28","q":370},{"t":"2009-11-30","q":370},{"t":"2009-12-01","q":325},{"t":"2009-12-02","q":214},{"t":"2009-12-03","q":355},{"t":"2009-12-04","q":175},{"t":"2009-12-05","q":0},
      {"t":"2009-12-28","q":0},{"t":"2009-12-29","q":205},{"t":"2009-12-31","q":385},{"t":"2010-01-01","q":55},{"t":"2010-01-03","q":0},{"t":"2010-01-05","q":406},{"t":"2010-01-07","q":415},{"t":"2010-01-08","q":919},{"t":"2010-01-09","q":625},{"t":"2010-01-10","q":0},{"t":"2010-01-11","q":40},{"t":"2010-01-12","q":505},{"t":"2010-01-13","q":535},{"t":"2010-01-15","q":280},{"t":"2010-01-16","q":535},{"t":"2010-01-17","q":550},{"t":"2010-01-18","q":265},{"t":"2010-01-19","q":175},{"t":"2010-01-21","q":214},{"t":"2010-01-22","q":181},{"t":"2010-01-23","q":0},{"t":"2010-01-28","q":0},{"t":"2010-01-30","q":721},{"t":"2010-02-01","q":235},{"t":"2010-02-03","q":169},{"t":"2010-02-04","q":130},{"t":"2010-02-05","q":0},{"t":"2010-02-12","q":0},{"t":"2010-02-14","q":355},{"t":"2010-02-15","q":685},{"t":"2010-02-17","q":865},{"t":"2010-02-18","q":841},{"t":"2010-02-20","q":352},{"t":"2010-02-21","q":385},{"t":"2010-02-22","q":985},{"t":"2010-02-23","q":1099},{"t":"2010-02-24","q":835},{"t":"2010-02-25","q":700},{"t":"2010-02-26","q":340},{"t":"2010-02-27","q":325},{"t":"2010-02-28","q":265},{"t":"2010-03-01","q":0},{"t":"2010-03-02","q":0},{"t":"2010-03-04","q":936},{"t":"2010-03-05","q":1549},{"t":"2010-03-06","q":1495},{"t":"2010-03-07","q":925},{"t":"2010-03-08","q":175},{"t":"2010-03-09","q":310},{"t":"2010-03-10","q":1369},{"t":"2010-03-12","q":1345},{"t":"2010-03-13","q":205},{"t":"2010-03-14","q":0},{"t":"2010-03-16","q":355},{"t":"2010-03-17","q":0},{"t":"2010-03-21","q":0}
    ],
    "precip": [
      {"t":"2009-06-17","p":0.3},{"t":"2009-06-18","p":0.5},{"t":"2009-06-19","p":0.6},{"t":"2009-06-20","p":0.4},{"t":"2009-06-21","p":0.3},{"t":"2009-06-22","p":0.5},{"t":"2009-06-26","p":0.4},{"t":"2009-06-27","p":0.6},{"t":"2009-06-28","p":0.5},{"t":"2009-06-29","p":0.3},{"t":"2009-06-30","p":0.2},{"t":"2009-07-01","p":0.2},{"t":"2009-07-02","p":0.2},{"t":"2009-07-03","p":0.1},{"t":"2009-07-04","p":0.1},
      {"t":"2009-08-18","p":7.2},{"t":"2009-08-20","p":1.3},
      {"t":"2009-12-25","p":0.1},{"t":"2009-12-27","p":0.2},{"t":"2009-12-29","p":0.1},{"t":"2009-12-31","p":0.6},{"t":"2010-01-02","p":3.2},{"t":"2010-01-03","p":3.2},{"t":"2010-01-04","p":0.2},{"t":"2010-01-06","p":0.1},{"t":"2010-01-08","p":0.2},{"t":"2010-01-11","p":0.1},{"t":"2010-01-13","p":0.3},{"t":"2010-01-15","p":0.2},{"t":"2010-01-18","p":0.1},{"t":"2010-01-20","p":0.3},{"t":"2010-01-22","p":0.2},{"t":"2010-01-24","p":0.3},{"t":"2010-01-26","p":0.1},{"t":"2010-01-30","p":7.6},{"t":"2010-01-31","p":0.4},{"t":"2010-02-16","p":0.3},{"t":"2010-03-08","p":0.3},{"t":"2010-03-09","p":0.5},{"t":"2010-03-10","p":0.2}
    ],
    "marker": [{"t":"2010-03-22"}]
  },
  "layer": [
    {
      "data": {"name": "precip"},
      "mark": {"type": "rule", "color": "#0000ff", "strokeWidth": 2.6},
      "encoding": {
        "x": {"field": "t", "type": "temporal",
          "scale": {"type": "utc", "nice": false, "domain": [{"year":2009,"month":1,"date":1,"utc":true},{"year":2010,"month":5,"date":1,"utc":true}]},
          "axis": {"orient": "bottom", "offset": -890, "title": null, "labels": false, "grid": false,
            "domain": true, "domainColor": "black", "domainWidth": 2.5,
            "values": [{"year":2009,"month":1,"date":1,"utc":true},{"year":2009,"month":2,"date":1,"utc":true},{"year":2009,"month":3,"date":1,"utc":true},{"year":2009,"month":4,"date":1,"utc":true},{"year":2009,"month":5,"date":1,"utc":true},{"year":2009,"month":6,"date":1,"utc":true},{"year":2009,"month":7,"date":1,"utc":true},{"year":2009,"month":8,"date":1,"utc":true},{"year":2009,"month":9,"date":1,"utc":true},{"year":2009,"month":10,"date":1,"utc":true},{"year":2009,"month":11,"date":1,"utc":true},{"year":2009,"month":12,"date":1,"utc":true},{"year":2010,"month":1,"date":1,"utc":true},{"year":2010,"month":2,"date":1,"utc":true},{"year":2010,"month":3,"date":1,"utc":true},{"year":2010,"month":4,"date":1,"utc":true},{"year":2010,"month":5,"date":1,"utc":true}],
            "tickSize": {"condition": {"test": "utcmonth(datum.value) % 2 == 0", "value": 27}, "value": 13},
            "tickColor": "#333333", "tickWidth": 1.2}
        },
        "y": {"field": "p", "type": "quantitative",
          "scale": {"domain": [0, 10], "range": [0, 100], "nice": false, "zero": false},
          "axis": {"orient": "right", "values": [0, 5, 10], "domain": false, "grid": false,
            "tickSize": {"condition": {"test": "datum.value != 5", "value": 26}, "value": 13},
            "tickColor": {"condition": {"test": "datum.value != 5", "value": "#808080"}, "value": "#444444"},
            "tickWidth": 1.5,
            "labelExpr": "datum.value == 5 ? '' : '' + datum.value", "labelPadding": 13, "labelBaseline": "middle",
            "title": ["P","R","E","C","I","P"], "titleAngle": 0, "titleX": 157, "titleY": -11.6, "titleAlign": "center", "titleBaseline": "middle", "titleLineHeight": 25.8}
        },
        "y2": {"datum": 0}
      }
    },
    {
      "data": {"name": "elev"},
      "mark": {"type": "line", "strokeWidth": 1.3},
      "encoding": {
        "x": {"field": "t", "type": "temporal",
          "scale": {"type": "utc", "nice": false, "domain": [{"year":2009,"month":1,"date":1,"utc":true},{"year":2010,"month":5,"date":1,"utc":true}]},
          "axis": {"orient": "bottom", "offset": -445, "title": null, "labels": false, "grid": false,
            "domain": true, "domainColor": "black", "domainWidth": 2.5,
            "values": [{"year":2009,"month":1,"date":1,"utc":true},{"year":2009,"month":2,"date":1,"utc":true},{"year":2009,"month":3,"date":1,"utc":true},{"year":2009,"month":4,"date":1,"utc":true},{"year":2009,"month":5,"date":1,"utc":true},{"year":2009,"month":6,"date":1,"utc":true},{"year":2009,"month":7,"date":1,"utc":true},{"year":2009,"month":8,"date":1,"utc":true},{"year":2009,"month":9,"date":1,"utc":true},{"year":2009,"month":10,"date":1,"utc":true},{"year":2009,"month":11,"date":1,"utc":true},{"year":2009,"month":12,"date":1,"utc":true},{"year":2010,"month":1,"date":1,"utc":true},{"year":2010,"month":2,"date":1,"utc":true},{"year":2010,"month":3,"date":1,"utc":true},{"year":2010,"month":4,"date":1,"utc":true},{"year":2010,"month":5,"date":1,"utc":true}],
            "tickSize": {"condition": {"test": "utcmonth(datum.value) % 2 == 0", "value": 27}, "value": 13},
            "tickColor": "#333333", "tickWidth": 1.2}
        },
        "y": {"field": "v", "type": "quantitative",
          "scale": {"domain": [10, 15], "range": [545, 100], "nice": false, "zero": false},
          "axis": {"orient": "left", "values": [10, 10.5, 11, 11.5, 12, 12.5, 13, 13.5, 14, 14.5, 15], "domain": false,
            "grid": true, "gridColor": "#333333", "gridWidth": 1,
            "gridOpacity": {"condition": {"test": "datum.value % 1 == 0", "value": 1}, "value": 0},
            "tickSize": {"condition": {"test": "datum.value % 1 == 0", "value": 26}, "value": 13},
            "tickColor": {"condition": {"test": "datum.value % 1 == 0", "value": "#808080"}, "value": "#444444"},
            "tickWidth": 1.5,
            "labelExpr": "datum.value % 1 == 0 ? '' + datum.value : ''", "labelPadding": 31, "labelBaseline": "middle",
            "title": ["E","L","E","V","A","T","I","O","N"], "titleAngle": 0, "titleX": -157, "titleY": 222, "titleAlign": "center", "titleBaseline": "middle", "titleLineHeight": 25.8}
        },
        "color": {"field": "s", "type": "nominal", "scale": {"domain": ["pool", "tail"], "range": ["#000000", "#ff0000"]}, "legend": null}
      }
    },
    {
      "data": {"name": "flow"},
      "mark": {"type": "line", "color": "#0000ff", "strokeWidth": 2.7},
      "encoding": {
        "x": {"field": "t", "type": "temporal",
          "scale": {"type": "utc", "nice": false, "domain": [{"year":2009,"month":1,"date":1,"utc":true},{"year":2010,"month":5,"date":1,"utc":true}]},
          "axis": {"orient": "bottom", "title": null, "domain": false,
            "values": [{"year":2009,"month":1,"date":1,"utc":true},{"year":2009,"month":2,"date":1,"utc":true},{"year":2009,"month":3,"date":1,"utc":true},{"year":2009,"month":4,"date":1,"utc":true},{"year":2009,"month":5,"date":1,"utc":true},{"year":2009,"month":6,"date":1,"utc":true},{"year":2009,"month":7,"date":1,"utc":true},{"year":2009,"month":8,"date":1,"utc":true},{"year":2009,"month":9,"date":1,"utc":true},{"year":2009,"month":10,"date":1,"utc":true},{"year":2009,"month":11,"date":1,"utc":true},{"year":2009,"month":12,"date":1,"utc":true},{"year":2010,"month":1,"date":1,"utc":true},{"year":2010,"month":2,"date":1,"utc":true},{"year":2010,"month":3,"date":1,"utc":true},{"year":2010,"month":4,"date":1,"utc":true},{"year":2010,"month":5,"date":1,"utc":true}],
            "grid": true, "gridColor": "#333333", "gridWidth": 1,
            "gridOpacity": {"condition": {"test": "utcmonth(datum.value) % 2 == 0", "value": 1}, "value": 0},
            "tickSize": {"condition": {"test": "utcmonth(datum.value) % 2 == 0", "value": 28}, "value": 13},
            "tickColor": {"condition": {"test": "utcmonth(datum.value) % 2 == 0", "value": "#808080"}, "value": "#444444"},
            "tickWidth": 1.5,
            "labelExpr": "utcmonth(datum.value) % 2 == 0 ? utcFormat(datum.value, '%b') : ''",
            "labelAngle": 0, "labelBaseline": "alphabetic", "labelPadding": 37}
        },
        "y": {"field": "q", "type": "quantitative",
          "scale": {"domain": [-1500, 2500], "range": [990, 545], "nice": false, "zero": false},
          "axis": {"orient": "right", "domain": false,
            "values": [-1500,-1400,-1300,-1200,-1100,-1000,-900,-800,-700,-600,-500,-400,-300,-200,-100,0,100,200,300,400,500,600,700,800,900,1000,1100,1200,1300,1400,1500,1600,1700,1800,1900,2000,2100,2200,2300,2400,2500],
            "grid": true, "gridColor": "#333333", "gridWidth": 1,
            "gridOpacity": {"condition": {"test": "datum.value % 500 == 0", "value": 1}, "value": 0},
            "tickSize": {"condition": {"test": "datum.value % 500 == 0", "value": 26}, "value": 13},
            "tickColor": {"condition": {"test": "datum.value % 500 == 0", "value": "#808080"}, "value": "#444444"},
            "tickWidth": 1.5,
            "labelExpr": "datum.value % 500 == 0 ? '' + datum.value : ''", "labelPadding": 13, "labelBaseline": "middle",
            "title": ["F","L","O","W"], "titleAngle": 0, "titleX": 226, "titleY": 732, "titleAlign": "center", "titleBaseline": "middle", "titleLineHeight": 25.8}
        }
      }
    },
    {
      "data": {"name": "marker"},
      "mark": {"type": "rule", "color": "#555555", "strokeWidth": 1.3, "strokeDash": [8, 7]},
      "encoding": {
        "x": {"field": "t", "type": "temporal",
          "scale": {"type": "utc", "nice": false, "domain": [{"year":2009,"month":1,"date":1,"utc":true},{"year":2010,"month":5,"date":1,"utc":true}]},
          "axis": {"orient": "bottom", "offset": 74, "title": null, "domain": false, "grid": false,
            "values": [{"year":2009,"month":1,"date":1,"utc":true},{"year":2009,"month":7,"date":2,"utc":true},{"year":2010,"month":1,"date":1,"utc":true},{"year":2010,"month":3,"date":1,"utc":true},{"year":2010,"month":5,"date":1,"utc":true}],
            "tickSize": 24, "tickWidth": 2.5, "tickColor": "#000000",
            "tickOpacity": {"condition": {"test": "utcmonth(datum.value) == 0 || utcmonth(datum.value) == 4", "value": 1}, "value": 0},
            "labelExpr": "(utcmonth(datum.value) == 6 || utcmonth(datum.value) == 2) ? utcFormat(datum.value, '%Y') : ''",
            "labelAngle": 0, "labelBaseline": "alphabetic", "labelPadding": 0}
        }
      }
    }
  ],
  "resolve": {"scale": {"y": "independent"}, "axis": {"x": "independent", "y": "independent"}}
}
